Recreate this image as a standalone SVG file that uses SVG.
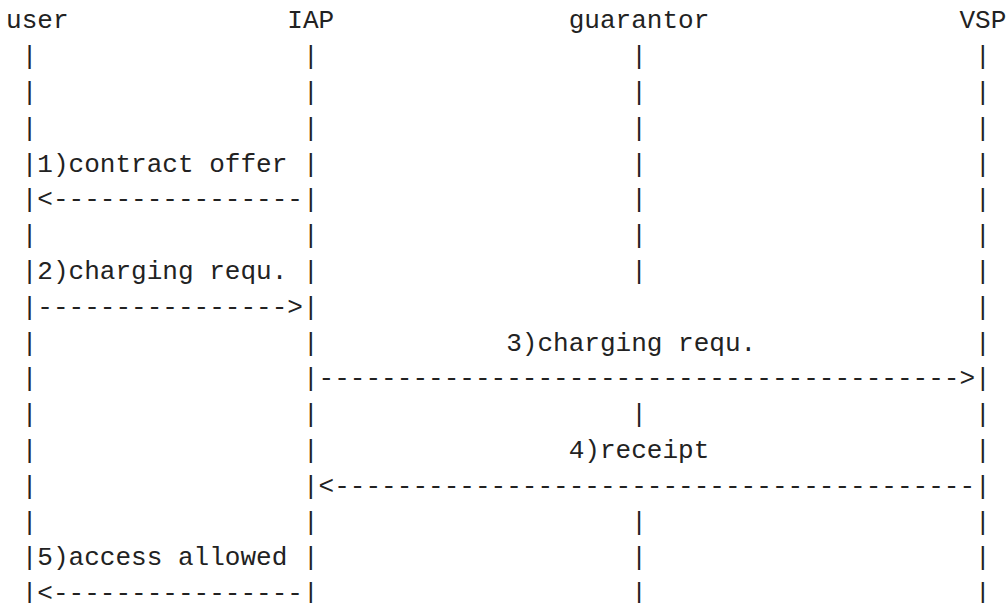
<svg xmlns="http://www.w3.org/2000/svg" width="1006" height="603" viewBox="0 0 1006 603">
<style>
text{font-family:"Liberation Mono","DejaVu Sans Mono",monospace;font-size:26.05px;fill:#222}
</style>
<rect width="1006" height="603" fill="#fff"/>
<g id="node-user"><text x="6" y="28.3">user</text></g>
<g id="node-iap"><text x="287.34" y="28.3">IAP</text></g>
<g id="node-guarantor"><text x="568.68" y="28.3">guarantor</text></g>
<g id="node-vsp"><text x="959.43" y="28.3">VSP</text></g>
<g id="connectors">
<g id="lifelines">
<text><tspan x="21.63" y="64.1">|</tspan><tspan x="21.63" y="99.9">|</tspan><tspan x="21.63" y="135.7">|</tspan><tspan x="21.63" y="171.5">|</tspan><tspan x="21.63" y="207.3">|</tspan><tspan x="21.63" y="243.1">|</tspan><tspan x="21.63" y="278.9">|</tspan><tspan x="21.63" y="314.7">|</tspan><tspan x="21.63" y="350.5">|</tspan><tspan x="21.63" y="386.3">|</tspan><tspan x="21.63" y="422.1">|</tspan><tspan x="21.63" y="457.9">|</tspan><tspan x="21.63" y="493.7">|</tspan><tspan x="21.63" y="529.5">|</tspan><tspan x="21.63" y="565.3">|</tspan><tspan x="21.63" y="601.1">|</tspan></text>
<text><tspan x="302.97" y="64.1">|</tspan><tspan x="302.97" y="99.9">|</tspan><tspan x="302.97" y="135.7">|</tspan><tspan x="302.97" y="171.5">|</tspan><tspan x="302.97" y="207.3">|</tspan><tspan x="302.97" y="243.1">|</tspan><tspan x="302.97" y="278.9">|</tspan><tspan x="302.97" y="314.7">|</tspan><tspan x="302.97" y="350.5">|</tspan><tspan x="302.97" y="386.3">|</tspan><tspan x="302.97" y="422.1">|</tspan><tspan x="302.97" y="457.9">|</tspan><tspan x="302.97" y="493.7">|</tspan><tspan x="302.97" y="529.5">|</tspan><tspan x="302.97" y="565.3">|</tspan><tspan x="302.97" y="601.1">|</tspan></text>
<text><tspan x="631.2" y="64.1">|</tspan><tspan x="631.2" y="99.9">|</tspan><tspan x="631.2" y="135.7">|</tspan><tspan x="631.2" y="171.5">|</tspan><tspan x="631.2" y="207.3">|</tspan><tspan x="631.2" y="243.1">|</tspan><tspan x="631.2" y="278.9">|</tspan><tspan x="631.2" y="422.1">|</tspan><tspan x="631.2" y="529.5">|</tspan><tspan x="631.2" y="565.3">|</tspan><tspan x="631.2" y="601.1">|</tspan></text>
<text><tspan x="975.06" y="64.1">|</tspan><tspan x="975.06" y="99.9">|</tspan><tspan x="975.06" y="135.7">|</tspan><tspan x="975.06" y="171.5">|</tspan><tspan x="975.06" y="207.3">|</tspan><tspan x="975.06" y="243.1">|</tspan><tspan x="975.06" y="278.9">|</tspan><tspan x="975.06" y="314.7">|</tspan><tspan x="975.06" y="350.5">|</tspan><tspan x="975.06" y="386.3">|</tspan><tspan x="975.06" y="422.1">|</tspan><tspan x="975.06" y="457.9">|</tspan><tspan x="975.06" y="493.7">|</tspan><tspan x="975.06" y="529.5">|</tspan><tspan x="975.06" y="565.3">|</tspan><tspan x="975.06" y="601.1">|</tspan></text>
</g>
<g id="msg1"><text x="37.26" y="171.5">1)contract offer</text><text x="37.26" y="207.3">&lt;----------------</text></g>
<g id="msg2"><text x="37.26" y="278.9">2)charging requ.</text><text x="37.26" y="314.7">----------------&gt;</text></g>
<g id="msg3"><text x="506.16" y="350.5">3)charging requ.</text><text x="318.6" y="386.3">-----------------------------------------&gt;</text></g>
<g id="msg4"><text x="568.68" y="457.9">4)receipt</text><text x="318.6" y="493.7">&lt;-----------------------------------------</text></g>
<g id="msg5"><text x="37.26" y="565.3">5)access allowed</text><text x="37.26" y="601.1">&lt;----------------</text></g>
</g>
</svg>
